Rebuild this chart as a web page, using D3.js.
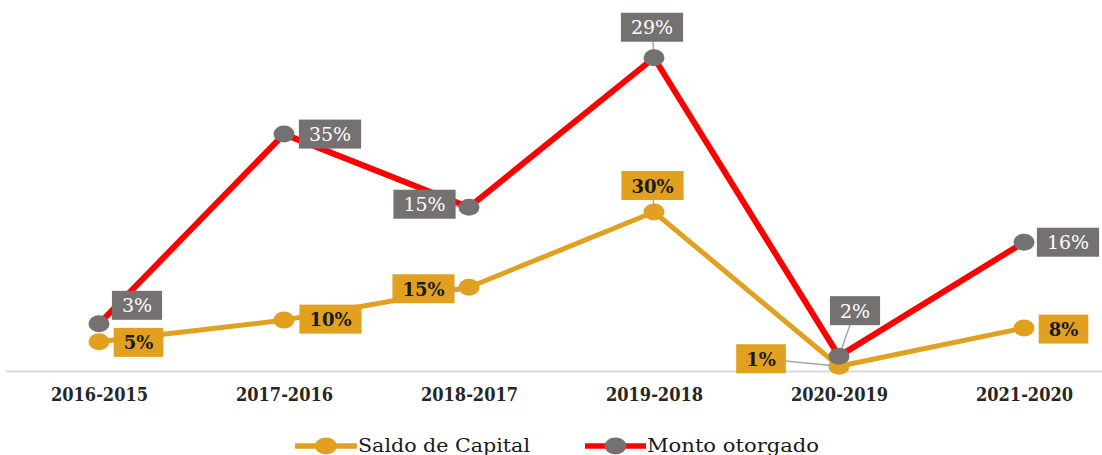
<!DOCTYPE html>
<html>
<head>
<meta charset="utf-8">
<script src="https://cdn.jsdelivr.net/npm/d3@7"></script>
<style>
  html, body { margin: 0; padding: 0; background: #ffffff; }
  svg { display: block; }
</style>
</head>
<body>
<svg id="chart" width="1102" height="455"></svg>
<script>
// ---------- data ----------
const categories = ["2016-2015", "2017-2016", "2018-2017", "2019-2018", "2020-2019", "2021-2020"];
const saldoValues = [5.5, 9.6, 15.8, 30.0, 0.9, 8.1];
const saldoLabels = ["5%", "10%", "15%", "30%", "1%", "8%"];
const montoValues = [8.9, 44.7, 30.9, 59.1, 2.8, 24.3];
const montoLabels = ["3%", "35%", "15%", "29%", "2%", "16%"];
const seriesNames = ["Saldo de Capital", "Monto otorgado"];

// ---------- layout / style ----------
const W = 1102, H = 455;
const ORANGE = "#E2A020", RED = "#FF0000", GRAY = "#767171", AXIS = "#D9D9D9", LEADER = "#A6A6A6";
const FONT = "DejaVu Serif, Liberation Serif, serif";
// label box offsets relative to each point (layout only)
const saldoPlace = [[39.5, 0.5, 0], [46.5, -1, 0], [-45.5, 1.5, 1], [-1.5, -26.5, 1], [-78, -7.5, 1], [39.5, 1, 0]];
const montoPlace = [[38, -18.5, 0], [46, 0, 0], [-44.5, -3, 1], [-2, -30.5, 1], [16, -45.5, 1], [44, 0, 0]];

const svg = d3.select("#chart");
const x = d3.scalePoint().domain(categories).range([99, 1024]);
const y = d3.scaleLinear().domain([0, 60]).range([371, 53]);

// axis line
svg.append("line").attr("x1", 6).attr("x2", W).attr("y1", 371.5).attr("y2", 371.5)
  .attr("stroke", AXIS).attr("stroke-width", 2);

// category axis
const axis = svg.append("g").attr("transform", "translate(0,371)")
  .call(d3.axisBottom(x).tickSize(0).tickPadding(0));
axis.select(".domain").remove();
axis.selectAll("text")
  .attr("y", 30).attr("dy", 0).attr("x", 0)
  .attr("textLength", 97).attr("lengthAdjust", "spacingAndGlyphs")
  .style("font-family", FONT).style("font-size", "18px").style("font-weight", "bold")
  .attr("fill", "#262626");

const line = d3.line().x((d, i) => x(categories[i])).y(d => y(d));

const series = [
  { values: saldoValues, labels: saldoLabels, color: ORANGE, marker: ORANGE, width: 5, place: saldoPlace, box: ORANGE, text: "#1a1a1a", weight: "bold", size: 18 },
  { values: montoValues, labels: montoLabels, color: RED, marker: GRAY, width: 6, place: montoPlace, box: GRAY, text: "#ffffff", weight: "normal", size: 19 }
];

series.forEach(s => {
  svg.append("path").datum(s.values).attr("d", line)
    .attr("fill", "none").attr("stroke", s.color).attr("stroke-width", s.width)
    .attr("stroke-linejoin", "round");
});

series.forEach(s => {
  const g = svg.append("g");
  // leader lines
  s.values.forEach((v, i) => {
    const p = s.place[i];
    if (!p[2]) return;
    const px = x(categories[i]), py = y(v);
    g.append("line").attr("x1", px + p[0]).attr("y1", py + p[1]).attr("x2", px).attr("y2", py)
      .attr("stroke", LEADER).attr("stroke-width", 1.5);
  });
  // markers
  g.selectAll("ellipse").data(s.values).join("ellipse")
    .attr("cx", (d, i) => x(categories[i])).attr("cy", d => y(d))
    .attr("rx", 10.5).attr("ry", 8.5).attr("fill", s.marker);
  // labels
  s.values.forEach((v, i) => {
    const p = s.place[i];
    const cx = x(categories[i]) + p[0], cy = y(v) + p[1];
    const lg = g.append("g").attr("transform", `translate(${cx},${cy})`);
    const rect = lg.append("rect").attr("fill", s.box);
    const t = lg.append("text").text(s.labels[i])
      .attr("text-anchor", "middle").attr("y", 7)
      .style("font-family", FONT).style("font-size", s.size + "px").style("font-weight", s.weight)
      .attr("fill", s.text);
    const tw = t.node().getComputedTextLength();
    const bw = tw + 20, bh = 29;
    rect.attr("x", -bw / 2).attr("y", -bh / 2).attr("width", bw).attr("height", bh);
  });
});

// legend
const legend = [
  { name: seriesNames[0], color: ORANGE, marker: ORANGE, x0: 295, x1: 357, tx: 358 },
  { name: seriesNames[1], color: RED, marker: GRAY, x0: 585, x1: 646, tx: 647 }
];
legend.forEach(l => {
  const g = svg.append("g");
  g.append("line").attr("x1", l.x0).attr("x2", l.x1).attr("y1", 446).attr("y2", 446)
    .attr("stroke", l.color).attr("stroke-width", 5.5);
  g.append("ellipse").attr("cx", (l.x0 + l.x1) / 2).attr("cy", 446).attr("rx", 11).attr("ry", 8.5)
    .attr("fill", l.marker);
  g.append("text").text(l.name).attr("x", l.tx).attr("y", 452)
    .attr("textLength", 172).attr("lengthAdjust", "spacingAndGlyphs")
    .style("font-family", FONT).style("font-size", "18px")
    .attr("fill", "#1a1a1a");
});
</script>
</body>
</html>
